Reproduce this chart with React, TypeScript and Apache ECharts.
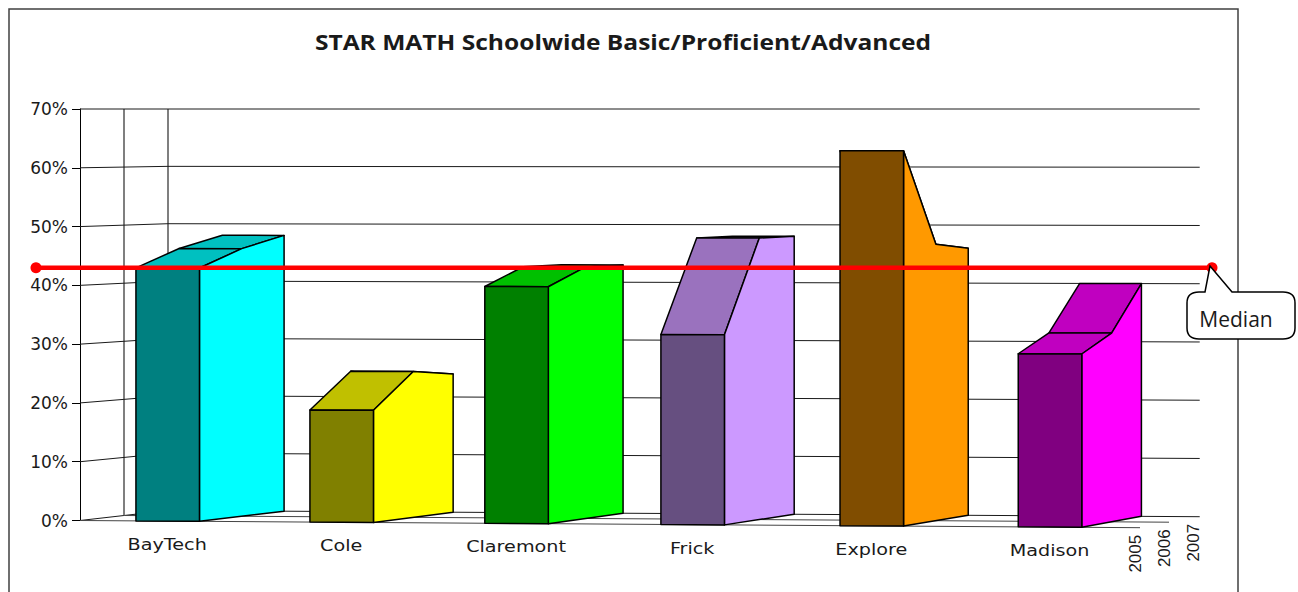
import React, { useEffect, useRef } from "react";
import * as echarts from "echarts";

const title = "STAR MATH Schoolwide Basic/Proficient/Advanced";
const schools = ["BayTech", "Cole", "Claremont", "Frick", "Explore", "Madison"];
const years = ["2005", "2006", "2007"];
const values2005 = [43, 19, 40, 32, 63, 29];
const values2006 = [46, 25, 43, 48, 47, 32];
const values2007 = [48, 24, 43, 48, 46, 40];
const yTicks = [0, 10, 20, 30, 40, 50, 60, 70];
const medianValue = 43;
const medianLabel = "Median";

const frontColors = ["#008080", "#808000", "#008000", "#664F80", "#804D00", "#800080"];
const sideColors = ["#00FFFF", "#FFFF00", "#00FF00", "#CC99FF", "#FF9900", "#FF00FF"];
const topColors = ["#00C0C0", "#C0C000", "#00C000", "#9A72BE", "#C07300", "#C000C0"];

const U_MIN = -0.317;
const U_MAX = 5.69;
const BAR_W = 0.36;
// Category slots on the front plane (the source's spacing is slightly uneven).
const barSlots = [0, 0.986, 1.977, 2.975, 3.99, 5.0];

function project(api: any, u: number, d: number, v: number): number[] {
  const t = (u - U_MIN) / (U_MAX - U_MIN);
  const p = api.coord([u, v]);
  const top = api.coord([u, 70])[1];
  const zero = api.coord([u, 0])[1];
  const base = zero + 7.2 * t - d * (5 + 0.5 * t);
  const f = (zero - p[1]) / (zero - top);
  return [p[0] + d * (44 - 15 * t), base + (top - base) * f];
}

function seg(a: number[], b: number[], color = "#1a1a1a", lineWidth = 1) {
  return {
    type: "line",
    shape: { x1: a[0], y1: a[1], x2: b[0], y2: b[1] },
    style: { stroke: color, lineWidth, fill: "none" },
    silent: true,
  };
}

const calloutPath =
  "M1210 266 L1232 292 L1283 292 Q1295 292 1295 303 L1295 328 Q1295 339 1283 339 L1199 339 Q1187 339 1187 328 L1187 303 Q1187 292 1199 292 L1205 292 Z";
echarts.graphic.registerShape("medianCallout", echarts.graphic.extendPath(calloutPath, {}));

export default function App() {
  const ref = useRef<HTMLDivElement>(null);
  useEffect(() => {
    document.body.style.margin = "0";
    const chart = echarts.init(ref.current!, null, { renderer: "svg" });
    chart.setOption({
      animation: false,
      backgroundColor: "#ffffff",
      grid: [
        { left: 80, top: 109, width: 1060, height: 411.5 },
        { left: 36, top: 109, width: 1176, height: 411.5 },
      ],
      xAxis: [
        { type: "value", gridIndex: 0, min: U_MIN, max: U_MAX, show: false },
        { type: "value", gridIndex: 1, min: 0, max: 1, show: false },
      ],
      yAxis: [
        {
          type: "value",
          gridIndex: 0,
          min: 0,
          max: 70,
          interval: 10,
          axisLine: { show: true, onZero: false, lineStyle: { color: "#000", width: 1 } },
          axisTick: { show: true, length: 8, lineStyle: { color: "#000", width: 1 } },
          splitLine: { show: false },
          axisLabel: {
            formatter: "{value}%",
            color: "#1a1a1a",
            fontFamily: "DejaVu Sans",
            fontSize: 17,
            margin: 12,
          },
        },
        { type: "value", gridIndex: 1, min: 0, max: 70, show: false },
      ],
      graphic: [
        {
          type: "rect",
          shape: { x: 9, y: 9, width: 1229, height: 600 },
          style: { fill: "none", stroke: "#404040", lineWidth: 1.5 },
          silent: true,
          z: 0,
        },
        {
          type: "text",
          x: 623,
          y: 42,
          scaleX: 1.17,
          style: {
            text: title,
            fontFamily: "Open Sans",
            fontWeight: "bold",
            fontSize: 21,
            fill: "#1a1a1a",
            align: "center",
            verticalAlign: "middle",
          },
          z: 20,
        },
        {
          type: "medianCallout",
          x: 0,
          y: 0,
          style: { fill: "#ffffff", stroke: "#000", lineWidth: 1.5 },
          z: 20,
          silent: true,
        },
        {
          type: "text",
          x: 1236,
          y: 319,
          style: {
            text: medianLabel,
            fontFamily: "Open Sans",
            fontSize: 21,
            fill: "#1a1a1a",
            align: "center",
            verticalAlign: "middle",
          },
          z: 21,
        },
      ],
      series: [
        {
          type: "custom",
          name: "walls",
          xAxisIndex: 0,
          yAxisIndex: 0,
          z: 1,
          silent: true,
          data: yTicks.map((v) => [0, v]),
          renderItem: (params: any, api: any) => {
            const v = api.value(1);
            const children: any[] = [
              seg(project(api, U_MIN, 0, v), project(api, U_MIN, 2, v)),
              seg(project(api, U_MIN, 2, v), project(api, U_MAX + 0.01, 2, v)),
            ];
            if (v === 0) {
              children.push(seg(project(api, U_MIN, 0, 0), project(api, U_MAX, 0, 0), "#444"));
              children.push(seg(project(api, U_MIN, 1, 0), project(api, U_MAX, 1, 0), "#444"));
              children.push(seg(project(api, U_MIN, 1, 0), project(api, U_MIN, 1, 70), "#555", 1.5));
              children.push(seg(project(api, U_MIN, 2, 0), project(api, U_MIN, 2, 70), "#555", 1.5));
            }
            return { type: "group", children };
          },
        },
        {
          type: "custom",
          name: "bars",
          xAxisIndex: 0,
          yAxisIndex: 0,
          z: 2,
          silent: true,
          data: schools.map((_, i) => [i, values2005[i], values2006[i], values2007[i]]),
          renderItem: (params: any, api: any) => {
            const i = api.value(0);
            const vals = [api.value(1), api.value(2), api.value(3)];
            const L = barSlots[i];
            const R = L + BAR_W;
            const tl = vals.map((v, d) => project(api, L, d, v));
            const tr = vals.map((v, d) => project(api, R, d, v));
            const edge = { stroke: "#000", lineWidth: 1.5, lineJoin: "round" };
            const poly = (points: number[][], fill: string) => ({
              type: "polygon",
              shape: { points },
              style: { ...edge, fill },
              silent: true,
            });
            return {
              type: "group",
              children: [
                poly([tl[1], tr[1], tr[2], tl[2]], topColors[i]),
                poly([tl[0], tr[0], tr[1], tl[1]], topColors[i]),
                poly([project(api, R, 0, 0), tr[0], tr[1], tr[2], project(api, R, 2, 0)], sideColors[i]),
                poly([project(api, L, 0, 0), tl[0], tr[0], project(api, R, 0, 0)], frontColors[i]),
              ],
            };
          },
        },
        {
          type: "custom",
          name: "schoolLabels",
          xAxisIndex: 0,
          yAxisIndex: 0,
          z: 3,
          silent: true,
          data: schools.map((_, i) => [i]),
          renderItem: (params: any, api: any) => {
            const i = api.value(0);
            const p = project(api, barSlots[i] + BAR_W / 2, 0, 0);
            return {
              type: "text",
              x: p[0] - 0.5,
              y: p[1] + 23.5,
              scaleX: 1.2,
              style: {
                text: schools[i],
                fontFamily: "DejaVu Sans",
                fontSize: 16,
                fill: "#1a1a1a",
                align: "center",
                verticalAlign: "middle",
              },
              silent: true,
            };
          },
        },
        {
          type: "custom",
          name: "yearLabels",
          xAxisIndex: 0,
          yAxisIndex: 0,
          z: 3,
          silent: true,
          data: years.map((_, d) => [d]),
          renderItem: (params: any, api: any) => {
            const d = api.value(0);
            const p = project(api, U_MAX, d, 0);
            return {
              type: "text",
              x: p[0] - 5,
              y: p[1] + 26,
              rotation: Math.PI / 2,
              style: {
                text: years[d],
                fontFamily: "Liberation Sans",
                fontSize: 17,
                fill: "#1a1a1a",
                align: "center",
                verticalAlign: "middle",
              },
              silent: true,
            };
          },
        },
        {
          type: "line",
          name: medianLabel,
          xAxisIndex: 1,
          yAxisIndex: 1,
          z: 10,
          silent: true,
          symbol: "circle",
          symbolSize: 11,
          lineStyle: { color: "#FF0000", width: 4.5 },
          itemStyle: { color: "#FF0000" },
          data: [
            [0, medianValue],
            [1, medianValue],
          ],
        },
      ],
    });
    return () => chart.dispose();
  }, []);
  return <div ref={ref} style={{ width: 1298, height: 592 }} />;
}
